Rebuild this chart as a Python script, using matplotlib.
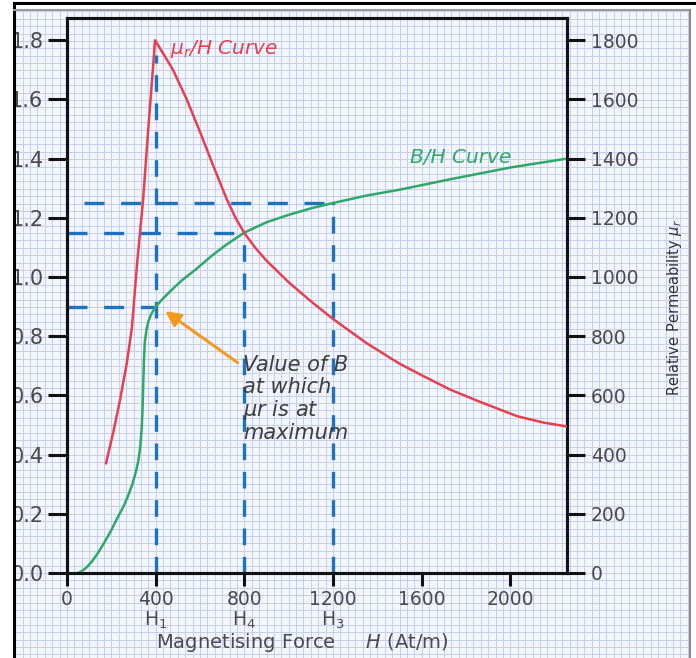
import numpy as np
import matplotlib.pyplot as plt
from matplotlib.patches import Rectangle
from matplotlib.lines import Line2D

plt.rcParams['font.family'] = ['DejaVu Sans']
plt.rcParams['mathtext.fontset'] = 'dejavusans'

# B/H curve (H in At/m, B in T)
bh_H = [50, 70, 90, 110, 130, 150, 170, 200, 230, 255, 275, 295, 310, 322, 331, 337, 341, 344, 347,
        351, 358, 367, 380, 400, 430, 470, 520, 580, 650, 720, 800, 900, 1000, 1100, 1200,
        1350, 1500, 1727, 2000, 2255]
bh_B = [0.0, 0.008, 0.02, 0.037, 0.057, 0.08, 0.105, 0.145, 0.19, 0.225, 0.26, 0.30, 0.34, 0.38, 0.43,
        0.49, 0.56, 0.64, 0.72, 0.78, 0.82, 0.85, 0.875, 0.90, 0.925, 0.955, 0.99, 1.025, 1.07, 1.11,
        1.15, 1.185, 1.21, 1.232, 1.25, 1.275, 1.295, 1.33, 1.37, 1.40]

# mu_r / H curve
mu_H = [176, 210, 239, 270, 293, 316, 343, 365, 388, 397,
        420, 478, 540, 600, 660, 721, 760, 800, 850, 900, 1000, 1100, 1200, 1350, 1500, 1600,
        1727, 1850, 2029, 2150, 2255]
mu_r = [371, 480, 584, 710, 830, 1045, 1259, 1485, 1708, 1800,
        1772, 1700, 1600, 1490, 1375, 1262, 1200, 1148, 1098, 1055, 982, 918, 858, 777, 707, 668,
        620, 582, 530, 508, 495]

# marked points: H1, H4, H3 and their B values
mark_H = [400, 800, 1200]
mark_B = [0.90, 1.15, 1.25]
mark_top = [1.75, 1.15, 1.25]
hline_start = [0, 0, 75]

x_ticks = [0, 400, 800, 1200, 1600, 2000]
x_labels = ['0', '400\nH$_1$', '800\nH$_4$', '1200\nH$_3$', '1600', '2000']
b_ticks = [0.0, 0.2, 0.4, 0.6, 0.8, 1.0, 1.2, 1.4, 1.6, 1.8]
mu_ticks = [0, 200, 400, 600, 800, 1000, 1200, 1400, 1600, 1800]

W, H = 696, 658
fig = plt.figure(figsize=(W / 100, H / 100), dpi=100)

# graph-paper background, in pixel units
bg = fig.add_axes([0, 0, 1, 1], zorder=-1)
bg.set_xlim(0, W)
bg.set_ylim(H, 0)
bg.axis('off')
bg.add_patch(Rectangle((14, 10), 676, 648, facecolor='#f3f6fd', edgecolor='none'))
x0, y0, step = 67, 573, 7.39
for gx in np.arange(x0 - step * 7, 690, step):
    bg.plot([gx, gx], [10, H], color='#c4cef0', lw=0.7)
for gy in np.arange(y0 + step * 12, 10, -step):
    bg.plot([14, 690], [gy, gy], color='#c4cef0', lw=0.7)

red = '#e5404e'
green = '#2fa865'
blue = '#1f72c0'
gray = '#4a4a4a'

ax = fig.add_axes([67 / W, 1 - 573 / H, 500 / W, 555 / H])
ax.set_facecolor('none')
ax.set_xlim(0, 2255)
ax.set_ylim(0, 1.875)
ax2 = ax.twinx()
ax2.set_ylim(0, 1875)

for sp in list(ax.spines.values()) + list(ax2.spines.values()):
    sp.set_linewidth(2.2)
    sp.set_color('#111111')

# dashed guide lines
ax.vlines(mark_H, 0, mark_top, colors=blue, lw=2.4, linestyles=(0, (5, 3.5)), zorder=1)
ax.hlines(mark_B, hline_start, mark_H, colors=blue, lw=2.4, linestyles=(0, (6, 5)), zorder=1)

ax.plot(bh_H, bh_B, color=green, lw=1.8, zorder=3)
ax2.plot(mu_H, mu_r, color=red, lw=1.8, zorder=3)

ax.set_xticks(x_ticks)
ax.set_xticklabels(x_labels, linespacing=1.0)
ax.set_yticks(b_ticks)
ax.set_yticklabels([f'{v:.1f}' for v in b_ticks])
ax2.set_yticks(mu_ticks)

ax.tick_params(axis='x', direction='out', length=9.5, width=2.2, pad=3, labelsize=13.5,
               labelcolor=gray, color='#111111')
ax.tick_params(axis='y', direction='out', length=14, width=2.2, pad=3, labelsize=15,
               labelcolor=gray, color='#111111')
ax2.tick_params(axis='y', direction='out', length=13, width=2.2, pad=4, labelsize=13.5,
                labelcolor=gray, color='#111111')

ax.set_xlabel('Magnetising Force     $H$ (At/m)', fontsize=14, color=gray)
ax.xaxis.set_label_coords(0.47, -0.105)
ax2.set_ylabel(r'Relative Permeability $\mu_r$', fontsize=10.5, color='#333333')
ax2.yaxis.set_label_coords(1.197, 0.478)

ax.text(465, 1.752, r'$\mu_r$/H Curve', color=red, fontsize=14.5, style='italic')
ax.text(1545, 1.385, 'B/H Curve', color=green, fontsize=14.5, style='italic')
ax.annotate('', xy=(433, 0.89), xytext=(780, 0.705),
            arrowprops=dict(arrowstyle='-|>,head_length=0.9,head_width=0.45',
                            color='#f39a1e', lw=2.2), zorder=4)
ax.text(795, 0.735, 'Value of B\nat which\n$\\mu$r is at\nmaximum', color='#3e3e3e', fontsize=15,
        style='italic', va='top', linespacing=1.08)

# frame: white margin, black line at left and top, grey at right/top of paper
fig.add_artist(Rectangle((0, 0), 14 / W, 1, transform=fig.transFigure,
                         facecolor='white', edgecolor='none', zorder=10))
fig.add_artist(Line2D([14 / W, 14 / W], [0, 1 - 3 / H], transform=fig.transFigure,
                      color='black', lw=2.2, zorder=11))
fig.add_artist(Line2D([14 / W, 1], [1 - 3 / H, 1 - 3 / H], transform=fig.transFigure,
                      color='black', lw=2.2, zorder=11))
fig.add_artist(Line2D([14 / W, 690 / W], [1 - 10 / H, 1 - 10 / H], transform=fig.transFigure,
                      color='#9a9a9a', lw=1.5, zorder=11))
fig.add_artist(Line2D([690 / W, 690 / W], [0, 1 - 10 / H], transform=fig.transFigure,
                      color='#8a8a8a', lw=1.5, zorder=11))

fig.savefig('out.png', dpi=100)
